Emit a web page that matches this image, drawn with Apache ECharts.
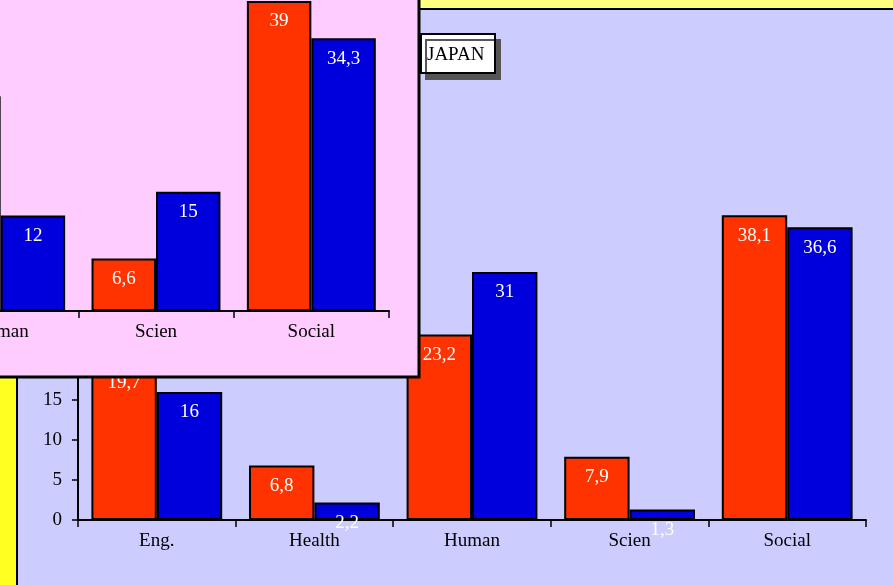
<!DOCTYPE html>
<html><head><meta charset="utf-8">
<script src="https://cdn.jsdelivr.net/npm/echarts@6/dist/echarts.min.js"></script>
<style>html,body{margin:0;padding:0;background:#FFFF80;}#c{width:893px;height:585px;}</style>
</head><body><div id="c"></div>
<script>
// Main chart (JAPAN)
const categories = ['Eng.', 'Health', 'Human', 'Scien', 'Social'];
const japanRed = [19.7, 6.8, 23.2, 7.9, 38.1];
const japanBlue = [16, 2.2, 31, 1.3, 36.6];
const yTicks = [0, 5, 10, 15, 20, 25, 30, 35, 40, 45];
// Inset chart (only its visible part)
const insetCategories = ['Human', 'Scien', 'Social'];
const insetRed = [27, 6.6, 39];
const insetBlue = [12, 15, 34.3];

const FONT = 'Liberation Serif';
const RED = '#FF3300', BLUE = '#0000DD';
const fmt = p => String(p.value).replace('.', ',');
const lbl = { show: true, position: 'insideTop', distance: 11, color: '#fff', fontFamily: FONT, fontSize: 19 };
const item = c => ({ color: c, borderColor: '#000', borderWidth: 2 });

const chart = echarts.init(document.getElementById('c'), null, { renderer: 'canvas' });
chart.setOption({
  backgroundColor: '#FFFF80',
  animation: false,
  title: {
    text: 'JAPAN', left: 421, top: 34, padding: [12, 11, 8, 6],
    backgroundColor: '#fff', borderColor: '#000', borderWidth: 2,
    shadowColor: '#555', shadowOffsetX: 5, shadowOffsetY: 6, shadowBlur: 0,
    textStyle: { fontFamily: FONT, fontSize: 19, fontWeight: 'normal', color: '#000' },
    z: 3
  },
  graphic: [
    { type: 'rect', z: -10, silent: true, shape: { x: 0, y: 0, width: 17, height: 585 }, style: { fill: '#FFFF22' } },
    { type: 'rect', z: -9, silent: true, shape: { x: 17, y: 9, width: 900, height: 600 }, style: { fill: '#CCCCFF', stroke: '#000', lineWidth: 2 } },
    { type: 'rect', z: 20, silent: true, shape: { x: -10, y: -10, width: 429, height: 387 }, style: { fill: '#FFCCFF', stroke: '#000', lineWidth: 3 } }
  ],
  grid: [
    { left: 78, right: 27, top: 160, bottom: 65 },
    { left: -77, width: 466, top: -7, bottom: 274, outerBoundsMode: 'none', containLabel: false }
  ],
  xAxis: [
    { type: 'category', gridIndex: 0, data: categories, z: 1,
      axisLine: { lineStyle: { color: '#000', width: 2 } },
      axisTick: { show: true, length: 7, lineStyle: { color: '#000', width: 1.5 } },
      axisLabel: { color: '#000', fontFamily: FONT, fontSize: 19, margin: 12 } },
    { type: 'category', gridIndex: 1, data: insetCategories, z: 21,
      axisLine: { lineStyle: { color: '#000', width: 2 } },
      axisTick: { show: true, length: 7, lineStyle: { color: '#000', width: 1.5 } },
      axisLabel: { color: '#000', fontFamily: FONT, fontSize: 19, margin: 12 } }
  ],
  yAxis: [
    { type: 'value', gridIndex: 0, min: 0, max: 45, interval: 5, z: 1,
      splitLine: { show: false },
      axisLine: { show: true, lineStyle: { color: '#000', width: 2 } },
      axisTick: { show: true, length: 6, lineStyle: { color: '#000', width: 1.5 } },
      axisLabel: { color: '#000', fontFamily: FONT, fontSize: 19, margin: 16,
        formatter: v => yTicks.includes(v) ? String(v) : '' } },
    { type: 'value', gridIndex: 1, min: 0, max: 40, show: false, splitLine: { show: false } }
  ],
  series: [
    { type: 'bar', xAxisIndex: 0, yAxisIndex: 0, data: japanRed, z: 2, barGap: 0, barCategoryGap: '17%',
      itemStyle: item(RED), label: Object.assign({ formatter: fmt }, lbl) },
    { type: 'bar', xAxisIndex: 0, yAxisIndex: 0, data: japanBlue, z: 2, barGap: 0, barCategoryGap: '17%',
      itemStyle: item(BLUE), label: Object.assign({ formatter: fmt }, lbl) },
    { type: 'bar', xAxisIndex: 1, yAxisIndex: 1, data: insetRed, z: 22, barGap: 0, barCategoryGap: '17%',
      itemStyle: item(RED), label: Object.assign({ formatter: fmt }, lbl) },
    { type: 'bar', xAxisIndex: 1, yAxisIndex: 1, data: insetBlue, z: 22, barGap: 0, barCategoryGap: '17%',
      itemStyle: item(BLUE), label: Object.assign({ formatter: fmt }, lbl) }
  ]
});
</script></body></html>
